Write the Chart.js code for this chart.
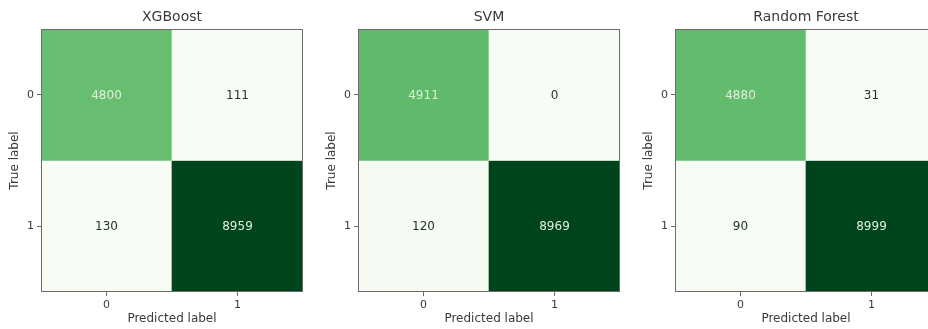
<!DOCTYPE html>
<html>
<head>
<meta charset="utf-8">
<script src="https://cdn.jsdelivr.net/npm/chart.js@4.4.1/dist/chart.umd.min.js"></script>
<style>
  html, body { margin: 0; padding: 0; background: #ffffff; }
  body { width: 928px; height: 329px; overflow: hidden; position: relative; }
  canvas { position: absolute; top: 0; }
</style>
</head>
<body>
<canvas id="cm0" width="307" height="329" style="left:0px"></canvas>
<canvas id="cm1" width="307" height="329" style="left:317px"></canvas>
<canvas id="cm2" width="307" height="329" style="left:634px"></canvas>
<script>
// Confusion matrices of the three classifiers (rows = true label, columns = predicted label)
const predictedLabels = ['0', '1'];
const trueLabels = ['0', '1'];
const modelNames = ['XGBoost', 'SVM', 'Random Forest'];
const xgboostCounts = [[4800, 111], [130, 8959]];
const svmCounts = [[4911, 0], [120, 8969]];
const randomForestCounts = [[4880, 31], [90, 8999]];
const modelCounts = [xgboostCounts, svmCounts, randomForestCounts];

// "Greens" sequential colour map stops
const GREENS = ['#f7fcf5', '#e5f5e0', '#c7e9c0', '#a1d99b', '#74c476', '#41ab5d', '#238b45', '#006d2c', '#00441b'];
function hexToRgb(h) {
  return [parseInt(h.slice(1, 3), 16), parseInt(h.slice(3, 5), 16), parseInt(h.slice(5, 7), 16)];
}
function greens(t) {
  t = Math.max(0, Math.min(1, t));
  const p = t * (GREENS.length - 1);
  const i = Math.min(Math.floor(p), GREENS.length - 2);
  const f = p - i;
  const a = hexToRgb(GREENS[i]), b = hexToRgb(GREENS[i + 1]);
  const c = a.map((v, k) => Math.round(v + (b[k] - v) * f));
  return 'rgb(' + c.join(',') + ')';
}

const TEXT = '#3a3a3a';
const FONT = "'DejaVu Sans', sans-serif";

// Outline of the plot area (all four spines)
const frame = {
  id: 'frame',
  afterDatasetsDraw(chart) {
    const a = chart.chartArea, ctx = chart.ctx;
    ctx.save();
    ctx.strokeStyle = '#6a6a6a';
    ctx.lineWidth = 1;
    ctx.strokeRect(Math.round(a.left) + 0.5, Math.round(a.top) + 0.5,
                   Math.round(a.right - a.left) - 1, Math.round(a.bottom - a.top) - 1);
    ctx.restore();
  }
};

// Count written in the middle of each cell
const cellText = {
  id: 'cellText',
  afterDatasetsDraw(chart) {
    const counts = chart.options.plugins.cellText.counts;
    const flat = counts.flat();
    const lo = Math.min(...flat), hi = Math.max(...flat);
    const thresh = (lo + hi) / 2;
    const ctx = chart.ctx;
    ctx.save();
    ctx.font = '12px ' + FONT;
    ctx.textAlign = 'center';
    ctx.textBaseline = 'middle';
    counts.forEach((row, r) => {
      const meta = chart.getDatasetMeta(r);
      row.forEach((v, c) => {
        const el = meta.data[c];
        ctx.fillStyle = v < thresh ? '#22352a' : '#dcf1d7';
        ctx.fillText(String(v), el.x, (el.y + el.base) / 2 + 1);
      });
    });
    ctx.restore();
  }
};

function buildChart(canvasId, name, counts) {
  const flat = counts.flat();
  const lo = Math.min(...flat), hi = Math.max(...flat);
  const datasets = counts.map((row, r) => ({
    label: 'True ' + trueLabels[r],
    data: row.map(() => [r, r + 1]),
    backgroundColor: row.map(v => greens((v - lo) / (hi - lo))),
    borderWidth: 0,
    barPercentage: 1,
    categoryPercentage: 1,
    grouped: false
  }));

  new Chart(document.getElementById(canvasId), {
    type: 'bar',
    data: { labels: predictedLabels, datasets },
    options: {
      responsive: false,
      animation: false,
      devicePixelRatio: 1,
      layout: { padding: { left: 0, right: 4, top: 0, bottom: 0 } },
      plugins: {
        legend: { display: false },
        tooltip: { enabled: false },
        title: { display: false },
        cellText: { counts }
      },
      scales: {
        x: {
          type: 'category',
          position: 'bottom',
          offset: true,
          grid: { display: true, drawOnChartArea: false, drawTicks: true, tickLength: 4, offset: false, color: '#6a6a6a' },
          border: { display: false },
          ticks: { color: TEXT, font: { family: FONT, size: 11 }, padding: 3, maxRotation: 0 },
          title: { display: true, text: 'Predicted label', color: TEXT, font: { family: FONT, size: 12 }, padding: { top: 0, bottom: 2.8 } },
          afterFit(scale) { scale.height = 37; }
        },
        top: {
          type: 'category',
          position: 'top',
          offset: true,
          grid: { display: false },
          border: { display: false },
          ticks: { display: false },
          title: { display: true, text: name, color: TEXT, font: { family: FONT, size: 14 }, padding: { top: 9, bottom: 0 } },
          afterFit(scale) { scale.height = 29; }
        },
        y: {
          type: 'linear',
          position: 'left',
          min: 0,
          max: 2,
          reverse: true,
          afterBuildTicks(scale) {
            scale.ticks = trueLabels.map((_, i) => ({ value: i + 0.5 }));
          },
          grid: { display: true, drawOnChartArea: false, drawTicks: true, tickLength: 4, color: '#6a6a6a' },
          border: { display: false },
          ticks: {
            color: TEXT, font: { family: FONT, size: 11 }, padding: 3,
            callback: v => trueLabels[Math.floor(v)]
          },
          title: { display: true, text: 'True label', color: TEXT, font: { family: FONT, size: 12 }, padding: { top: 8, bottom: 0 } },
          afterFit(scale) { scale.width = 41; }
        }
      }
    },
    plugins: [frame, cellText]
  });
}

modelNames.forEach((name, i) => buildChart('cm' + i, name, modelCounts[i]));
</script>
</body>
</html>
